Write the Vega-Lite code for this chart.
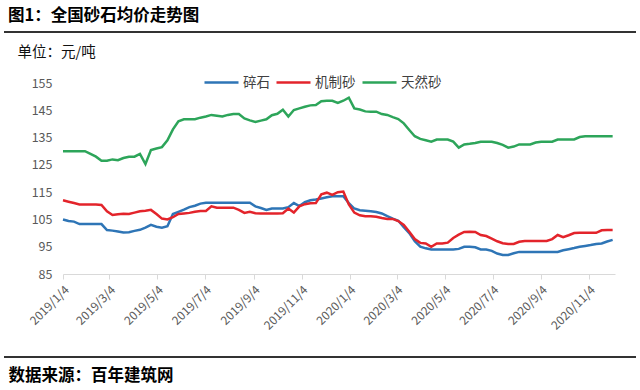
{
  "$schema": "https://vega.github.io/schema/vega-lite/v6.json",
  "background": "white",
  "autosize": {"type": "none"},
  "padding": {"left": 4, "top": 32, "right": 4, "bottom": 33},
  "width": 632,
  "height": 325,
  "config": {
    "font": "Noto Sans CJK SC",
    "view": {"stroke": "#333333", "strokeWidth": 2, "strokeDash": [632, 325, 632, 325]}
  },
  "title": {"text": "图1：全国砂石均价走势图", "anchor": "start", "frame": "group", "fontSize": 16.5, "fontWeight": "bold", "color": "#000000", "offset": 8, "dx": 4},
  "data": {
    "values": [
      {"date": "2019-01-04", "碎石": 105, "机制砂": 112, "天然砂": 130},
      {"date": "2019-01-11", "碎石": 104.4, "机制砂": 111.5, "天然砂": 130},
      {"date": "2019-01-18", "碎石": 104.2, "机制砂": 111, "天然砂": 130},
      {"date": "2019-01-25", "碎石": 103.3, "机制砂": 110.5, "天然砂": 130},
      {"date": "2019-02-01", "碎石": 103.3, "机制砂": 110.5, "天然砂": 130},
      {"date": "2019-02-08", "碎石": 103.3, "机制砂": 110.5, "天然砂": 129},
      {"date": "2019-02-15", "碎石": 103.3, "机制砂": 110.5, "天然砂": 128},
      {"date": "2019-02-22", "碎石": 103.3, "机制砂": 110.3, "天然砂": 126.5},
      {"date": "2019-03-01", "碎石": 101.1, "机制砂": 108, "天然砂": 126.5},
      {"date": "2019-03-08", "碎石": 100.9, "机制砂": 106.6, "天然砂": 127},
      {"date": "2019-03-15", "碎石": 100.6, "机制砂": 106.9, "天然砂": 126.7},
      {"date": "2019-03-22", "碎石": 100.2, "机制砂": 107.1, "天然砂": 127.5},
      {"date": "2019-03-29", "碎石": 100.3, "机制砂": 107, "天然砂": 128},
      {"date": "2019-04-05", "碎石": 100.8, "机制砂": 107.5, "天然砂": 128},
      {"date": "2019-04-12", "碎石": 101.2, "机制砂": 108, "天然砂": 129},
      {"date": "2019-04-19", "碎石": 102, "机制砂": 108.2, "天然砂": 125.3},
      {"date": "2019-04-26", "碎石": 103, "机制砂": 108.5, "天然砂": 130.4},
      {"date": "2019-05-03", "碎石": 102.3, "机制砂": 107, "天然砂": 131},
      {"date": "2019-05-10", "碎石": 102, "机制砂": 105.3, "天然砂": 131.5},
      {"date": "2019-05-17", "碎石": 102.5, "机制砂": 105, "天然砂": 134},
      {"date": "2019-05-24", "碎石": 107, "机制砂": 105.8, "天然砂": 138},
      {"date": "2019-05-31", "碎石": 107.8, "机制砂": 107, "天然砂": 141},
      {"date": "2019-06-07", "碎石": 108.6, "机制砂": 107.2, "天然砂": 141.7},
      {"date": "2019-06-14", "碎石": 109.5, "机制砂": 107.4, "天然砂": 141.7},
      {"date": "2019-06-21", "碎石": 110, "机制砂": 107.8, "天然砂": 141.7},
      {"date": "2019-06-28", "碎石": 110.8, "机制砂": 108.1, "天然砂": 142.3},
      {"date": "2019-07-05", "碎石": 111.1, "机制砂": 108.1, "天然砂": 142.7},
      {"date": "2019-07-12", "碎石": 111.1, "机制砂": 109.8, "天然砂": 143.3},
      {"date": "2019-07-19", "碎石": 111.1, "机制砂": 109.3, "天然砂": 143},
      {"date": "2019-07-26", "碎石": 111.1, "机制砂": 109.3, "天然砂": 142.7},
      {"date": "2019-08-02", "碎石": 111.1, "机制砂": 109.3, "天然砂": 143.3},
      {"date": "2019-08-09", "碎石": 111.1, "机制砂": 109.3, "天然砂": 143.6},
      {"date": "2019-08-16", "碎石": 111.1, "机制砂": 108.5, "天然砂": 143.6},
      {"date": "2019-08-23", "碎石": 111.1, "机制砂": 107.4, "天然砂": 142},
      {"date": "2019-08-30", "碎石": 111.1, "机制砂": 107.8, "天然砂": 141.3},
      {"date": "2019-09-06", "碎石": 109.8, "机制砂": 107.3, "天然砂": 140.7},
      {"date": "2019-09-13", "碎石": 109.2, "机制砂": 107.2, "天然砂": 141.2},
      {"date": "2019-09-20", "碎石": 108.5, "机制砂": 107.2, "天然砂": 141.7},
      {"date": "2019-09-27", "碎石": 109, "机制砂": 107.2, "天然砂": 143.2},
      {"date": "2019-10-04", "碎石": 109, "机制砂": 107.2, "天然砂": 143.7},
      {"date": "2019-10-11", "碎石": 109, "机制砂": 107.3, "天然砂": 145.2},
      {"date": "2019-10-18", "碎石": 109.5, "机制砂": 109, "天然砂": 142.7},
      {"date": "2019-10-25", "碎石": 111, "机制砂": 107.5, "天然砂": 145.1},
      {"date": "2019-11-01", "碎石": 109.9, "机制砂": 109.8, "天然砂": 145.7},
      {"date": "2019-11-08", "碎石": 111.3, "机制砂": 110.6, "天然砂": 146.3},
      {"date": "2019-11-15", "碎石": 112, "机制砂": 110.9, "天然砂": 146.8},
      {"date": "2019-11-22", "碎石": 112.3, "机制砂": 111, "天然砂": 146.9},
      {"date": "2019-11-29", "碎石": 112.7, "机制砂": 114.2, "天然砂": 148.3},
      {"date": "2019-12-06", "碎石": 113.1, "机制砂": 114.8, "天然砂": 148.5},
      {"date": "2019-12-13", "碎石": 113.5, "机制砂": 114, "天然砂": 148.5},
      {"date": "2019-12-20", "碎石": 113.5, "机制砂": 115, "天然砂": 147.7},
      {"date": "2019-12-27", "碎石": 113.5, "机制砂": 115.2, "天然砂": 148.5},
      {"date": "2020-01-03", "碎石": 111, "机制砂": 110.5, "天然砂": 149.6},
      {"date": "2020-01-10", "碎石": 109, "机制砂": 107.5, "天然砂": 145.7},
      {"date": "2020-01-17", "碎石": 108.4, "机制砂": 106.5, "天然砂": 145.3},
      {"date": "2020-01-24", "碎石": 108.2, "机制砂": 106.2, "天然砂": 144.6},
      {"date": "2020-01-31", "碎石": 108, "机制砂": 106.2, "天然砂": 144.5},
      {"date": "2020-02-07", "碎石": 107.7, "机制砂": 106, "天然砂": 144.5},
      {"date": "2020-02-14", "碎石": 107.2, "机制砂": 105.5, "天然砂": 143.6},
      {"date": "2020-02-21", "碎石": 106.2, "机制砂": 105.2, "天然砂": 143.3},
      {"date": "2020-02-28", "碎石": 105.3, "机制砂": 105.2, "天然砂": 142.5},
      {"date": "2020-03-06", "碎石": 104.5, "机制砂": 104.4, "天然砂": 141.8},
      {"date": "2020-03-13", "碎石": 102.2, "机制砂": 103, "天然砂": 140.2},
      {"date": "2020-03-20", "碎石": 100, "机制砂": 100.5, "天然砂": 137.8},
      {"date": "2020-03-27", "碎石": 97, "机制砂": 97.8, "天然砂": 135.5},
      {"date": "2020-04-03", "碎石": 95, "机制砂": 96.4, "天然砂": 134.5},
      {"date": "2020-04-10", "碎石": 94.4, "机制砂": 96.2, "天然砂": 134},
      {"date": "2020-04-17", "碎石": 94, "机制砂": 95, "天然砂": 133.5},
      {"date": "2020-04-24", "碎石": 94, "机制砂": 96.2, "天然砂": 134.3},
      {"date": "2020-05-01", "碎石": 94, "机制砂": 96.2, "天然砂": 134.3},
      {"date": "2020-05-08", "碎石": 94, "机制砂": 96.5, "天然砂": 134.3},
      {"date": "2020-05-15", "碎石": 94, "机制砂": 98.2, "天然砂": 133.5},
      {"date": "2020-05-22", "碎石": 94.2, "机制砂": 99.4, "天然砂": 131.3},
      {"date": "2020-05-29", "碎石": 95, "机制砂": 100.4, "天然砂": 132.5},
      {"date": "2020-06-05", "碎石": 95, "机制砂": 100.5, "天然砂": 132.7},
      {"date": "2020-06-12", "碎石": 94.8, "机制砂": 100.4, "天然砂": 133},
      {"date": "2020-06-19", "碎石": 94, "机制砂": 99.3, "天然砂": 133.5},
      {"date": "2020-06-26", "碎石": 94, "机制砂": 98.9, "天然砂": 133.5},
      {"date": "2020-07-03", "碎石": 93.5, "机制砂": 98, "天然砂": 133.5},
      {"date": "2020-07-10", "碎石": 92.5, "机制砂": 97, "天然砂": 133},
      {"date": "2020-07-17", "碎石": 92, "机制砂": 96.3, "天然砂": 132.3},
      {"date": "2020-07-24", "碎石": 92, "机制砂": 96, "天然砂": 131.3},
      {"date": "2020-07-31", "碎石": 92.6, "机制砂": 96, "天然砂": 131.7},
      {"date": "2020-08-07", "碎石": 93.1, "机制砂": 96.8, "天然砂": 132.5},
      {"date": "2020-08-14", "碎石": 93.1, "机制砂": 97.1, "天然砂": 132.5},
      {"date": "2020-08-21", "碎石": 93.1, "机制砂": 97.1, "天然砂": 132.5},
      {"date": "2020-08-28", "碎石": 93.1, "机制砂": 97.1, "天然砂": 133.2},
      {"date": "2020-09-04", "碎石": 93.1, "机制砂": 97.1, "天然砂": 133.5},
      {"date": "2020-09-11", "碎石": 93.1, "机制砂": 97.1, "天然砂": 133.5},
      {"date": "2020-09-18", "碎石": 93.1, "机制砂": 97.8, "天然砂": 133.5},
      {"date": "2020-09-25", "碎石": 93.1, "机制砂": 99.3, "天然砂": 134.3},
      {"date": "2020-10-02", "碎石": 93.7, "机制砂": 98.5, "天然砂": 134.3},
      {"date": "2020-10-09", "碎石": 94.1, "机制砂": 99.2, "天然砂": 134.3},
      {"date": "2020-10-16", "碎石": 94.5, "机制砂": 100, "天然砂": 134.3},
      {"date": "2020-10-23", "碎石": 95, "机制砂": 100.1, "天然砂": 135.2},
      {"date": "2020-10-30", "碎石": 95.3, "机制砂": 100.1, "天然砂": 135.5},
      {"date": "2020-11-06", "碎石": 95.6, "机制砂": 100.1, "天然砂": 135.5},
      {"date": "2020-11-13", "碎石": 96, "机制砂": 100.1, "天然砂": 135.5},
      {"date": "2020-11-20", "碎石": 96.2, "机制砂": 101, "天然砂": 135.5},
      {"date": "2020-11-27", "碎石": 96.9, "机制砂": 101.1, "天然砂": 135.5},
      {"date": "2020-12-04", "碎石": 97.5, "机制砂": 101.1, "天然砂": 135.5}
    ]
  },
  "transform": [{"fold": ["碎石", "机制砂", "天然砂"], "as": ["系列", "价格"]}],
  "mark": {"type": "line", "strokeWidth": 2.5},
  "encoding": {
    "x": {
      "field": "date",
      "type": "temporal",
      "scale": {
        "type": "utc",
        "range": [59, 611],
        "domain": [
          {"year": 2019, "month": 1, "date": 4, "utc": true},
          {"year": 2020, "month": 12, "date": 7, "utc": true}
        ]
      },
      "axis": {
        "title": "数据来源：百年建筑网",
        "titleAngle": 0,
        "titleAlign": "left",
        "titleBaseline": "middle",
        "titleX": 4,
        "titleY": 101,
        "titleFontSize": 16.5,
        "titleFontWeight": "bold",
        "titleColor": "#000000",
        "offset": -83,
        "values": [
          {"year": 2019, "month": 1, "date": 4, "utc": true},
          {"year": 2019, "month": 3, "date": 4, "utc": true},
          {"year": 2019, "month": 5, "date": 4, "utc": true},
          {"year": 2019, "month": 7, "date": 4, "utc": true},
          {"year": 2019, "month": 9, "date": 4, "utc": true},
          {"year": 2019, "month": 11, "date": 4, "utc": true},
          {"year": 2020, "month": 1, "date": 4, "utc": true},
          {"year": 2020, "month": 3, "date": 4, "utc": true},
          {"year": 2020, "month": 5, "date": 4, "utc": true},
          {"year": 2020, "month": 7, "date": 4, "utc": true},
          {"year": 2020, "month": 9, "date": 4, "utc": true},
          {"year": 2020, "month": 11, "date": 4, "utc": true}
        ],
        "format": "%Y/%-m/%-d",
        "labelAngle": -45,
        "labelFontSize": 12,
        "labelColor": "#595959",
        "labelPadding": 5,
        "labelOverlap": false,
        "grid": false,
        "domainColor": "#d9d9d9",
        "tickColor": "#d9d9d9",
        "tickSize": 5
      }
    },
    "y": {
      "field": "价格",
      "type": "quantitative",
      "scale": {"domain": [85, 155], "nice": false, "zero": false, "range": [242, 51]},
      "axis": {
        "title": "单位：元/吨",
        "titleAngle": 0,
        "titleAlign": "left",
        "titleBaseline": "middle",
        "titleX": -46,
        "titleY": 20,
        "titleFontSize": 14.5,
        "titleFontWeight": "normal",
        "titleColor": "#111111",
        "offset": -59,
        "values": [85, 95, 105, 115, 125, 135, 145, 155],
        "labelFontSize": 12.5,
        "labelColor": "#595959",
        "labelPadding": 11,
        "ticks": false,
        "domain": false,
        "grid": false
      }
    },
    "color": {
      "field": "系列",
      "type": "nominal",
      "scale": {"domain": ["碎石", "机制砂", "天然砂"], "range": ["#2E75B6", "#E3242B", "#2DA55A"]},
      "legend": {
        "title": null,
        "orient": "none",
        "legendX": 199,
        "legendY": 32,
        "direction": "horizontal",
        "symbolType": "stroke",
        "symbolSize": 1156,
        "symbolStrokeWidth": 2.5,
        "labelFontSize": 13.5,
        "labelColor": "#404040",
        "labelOffset": 3,
        "columnPadding": 1
      }
    }
  }
}
